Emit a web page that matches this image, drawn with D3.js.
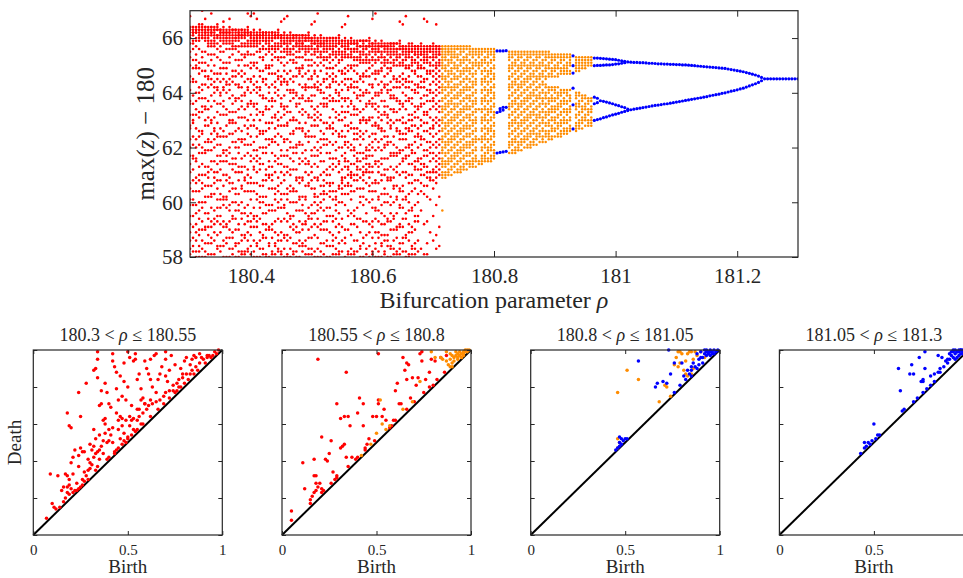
<!DOCTYPE html>
<html>
<head>
<meta charset="utf-8">
<script src="https://cdn.jsdelivr.net/npm/d3@7"></script>
<style>
  body { margin: 0; background: #fff; }
  text { font-family: "Liberation Serif", "Times New Roman", serif; fill: #262626; }
</style>
</head>
<body>
<svg id="chart" width="963" height="578"></svg>
<script>
// ---------------- data ----------------
// bifurcation diagram: each column is "rho:codes", code = tenths above 58 for max(z)-180
var redCols = [
"180.300:84 84 83 83 82 81 80 78 75 73 70 66 64 61 57 56 52 48 47 43 40 37 34 31 27 25 21 19 15 12 09 06 03 01 88",
"180.315:85 84 83 83 82 81 80 79 76 71 69 67 62 60 58 53 51 46 44 41 38 33 30 28 24 20 17 14 10 08 04 02 00",
"180.335:84 84 83 82 82 81 79 78 77 74 72 68 65 63 59 55 50 49 45 42 39 35 32 26 23 22 18 13 11 07 05 01 89",
"180.310:84 83 83 82 82 80 79 77 74 72 70 69 64 60 57 54 52 47 43 40 36 35 29 27 24 19 16 12 09 06 02 00",
"180.345:85 84 83 83 81 81 80 78 76 73 67 65 62 61 56 53 49 45 44 41 37 34 31 28 25 21 18 15 13 08 04 03",
"180.325:84 84 83 82 82 81 80 79 75 71 68 66 63 58 55 54 50 48 42 39 38 33 30 26 22 20 16 11 10 05 02 00 87",
"180.340:84 83 83 82 81 80 79 78 77 74 70 67 64 62 60 57 51 47 46 43 40 35 31 29 27 23 17 14 12 09 06 01",
"180.305:84 84 83 82 82 81 79 78 76 72 69 65 64 59 56 52 50 49 44 41 37 36 32 28 24 21 19 15 11 07 04 02",
"180.320:85 84 83 83 82 81 80 80 75 73 71 68 63 61 58 55 53 46 45 40 38 34 30 27 25 20 18 13 10 06 03 00 90",
"180.330:84 83 83 82 81 80 79 78 77 74 70 66 65 62 57 54 51 48 43 42 39 33 31 29 26 22 16 14 11 08 05 01",
"180.350:83 83 82 82 81 80 79 77 75 72 69 67 64 60 59 56 52 47 44 41 37 35 32 28 23 21 18 15 12 09 04 02",
"180.365:84 83 82 82 81 80 79 78 76 73 71 65 63 61 58 53 50 49 45 40 38 34 29 27 24 19 17 13 10 07 03 00 87",
"180.385:83 83 82 81 81 80 78 77 74 72 68 66 62 59 57 55 51 46 43 42 36 33 31 26 25 20 16 14 08 06 02 01",
"180.360:83 82 82 81 80 80 79 78 76 71 69 67 64 63 60 54 52 48 44 39 37 35 30 28 22 21 18 12 11 07 05 00",
"180.395:84 83 82 82 81 79 78 77 75 74 70 65 62 61 56 55 50 47 45 41 38 32 30 27 24 19 15 13 09 06 03 02 89",
"180.375:83 83 82 81 80 80 79 77 76 72 68 66 63 58 57 53 49 46 42 40 36 34 31 25 23 20 17 14 10 05 04 00",
"180.390:83 82 82 81 81 80 78 77 74 73 70 67 64 60 59 54 51 48 43 41 37 33 29 28 24 18 16 12 08 07 02 01",
"180.355:84 83 82 82 81 80 79 78 75 71 69 65 62 61 57 55 52 46 44 39 38 35 30 26 22 21 19 13 11 06 04 00 86",
"180.370:83 83 82 81 80 79 78 77 76 74 68 66 64 59 56 53 50 49 45 42 36 34 32 27 25 20 15 14 09 07 03 01",
"180.380:83 82 82 81 81 80 79 77 75 72 70 67 63 62 58 54 51 47 43 40 38 33 31 28 23 19 17 12 10 05 02 00",
"180.400:82 82 81 81 80 79 78 77 74 71 69 65 64 60 57 56 52 48 44 41 37 35 29 27 24 21 16 13 11 08 04 01 88",
"180.415:83 82 81 81 80 79 78 76 75 73 68 66 62 61 59 53 50 46 45 40 36 34 32 26 22 20 18 14 09 06 03 00",
"180.435:82 82 81 80 80 79 77 76 74 72 70 67 63 58 57 55 51 49 43 42 38 33 30 28 25 19 17 12 10 07 02 01",
"180.410:82 81 81 80 79 79 78 77 75 71 69 64 62 60 56 54 52 47 44 39 37 35 31 27 23 21 15 13 11 05 04 00 87",
"180.445:83 82 81 81 80 78 77 76 73 72 68 66 65 61 59 53 50 48 45 41 36 34 29 26 24 20 18 14 08 06 03 02",
"180.425:82 82 81 80 79 79 78 76 74 70 69 65 63 58 55 54 49 46 43 40 38 32 30 28 22 19 16 12 10 07 01 00",
"180.440:82 81 81 80 80 78 77 76 75 73 67 64 62 60 57 52 51 47 44 42 37 35 31 25 23 21 17 13 09 05 04 01",
"180.405:83 82 81 80 79 79 78 77 74 71 70 66 63 61 56 55 50 48 42 39 36 33 32 27 24 18 15 14 11 06 02 00 89",
"180.420:82 82 81 81 80 79 77 76 73 72 68 65 64 59 58 53 52 46 45 40 38 34 28 26 22 20 16 12 08 07 03 01",
"180.430:82 81 80 80 79 78 77 76 75 70 69 67 62 60 57 54 49 47 43 41 35 33 30 29 25 19 17 11 10 05 04 00",
"180.450:81 81 80 80 79 78 77 75 73 71 66 64 63 58 56 55 51 48 44 39 37 34 31 27 23 21 18 13 09 06 02 01 86",
"180.465:82 81 80 79 79 78 76 75 74 72 68 65 61 60 57 53 50 45 42 40 36 32 30 26 24 20 15 14 11 07 03 00",
"180.485:81 81 80 79 78 78 77 76 73 70 69 66 62 59 58 54 52 47 46 41 38 35 29 28 22 19 17 12 10 05 04 02",
"180.460:81 80 80 79 78 77 76 75 74 71 67 64 63 61 55 53 49 48 43 39 37 33 31 25 23 21 16 13 08 06 01 00 88",
"180.495:82 81 80 80 79 77 76 75 72 70 68 65 62 58 57 52 51 46 44 42 35 34 30 27 26 18 15 14 10 07 03 01",
"180.475:81 81 80 79 78 78 77 75 73 71 69 66 60 59 56 55 50 47 41 40 38 32 29 28 24 20 17 11 09 05 02 00",
"180.490:81 80 80 79 79 77 76 75 74 72 67 63 62 61 57 53 49 45 44 39 36 34 31 26 22 21 16 13 12 06 04 01",
"180.455:82 81 80 79 78 78 76 75 73 70 68 65 64 59 55 54 52 48 43 42 37 33 30 28 23 19 18 14 08 07 03 00 87",
"180.470:81 81 80 80 79 77 76 74 72 71 66 64 61 60 58 51 50 46 45 40 38 35 32 25 24 20 15 12 10 05 02 01",
"180.480:81 80 79 79 78 77 76 75 73 69 68 67 63 58 56 53 49 47 42 41 36 34 29 27 22 21 17 13 09 06 04 00",
"180.500:80 80 79 79 78 77 76 74 72 70 66 65 62 59 57 55 51 48 44 39 37 33 31 28 25 19 16 14 11 07 03 01 85",
"180.515:81 80 79 78 78 77 75 74 73 71 68 63 61 60 56 52 50 46 43 40 38 35 30 26 23 20 18 12 10 05 02 00",
"180.535:80 80 79 78 77 76 75 74 72 69 67 65 64 58 57 54 49 47 45 41 36 34 32 27 24 21 15 13 08 06 04 01",
"180.510:80 79 79 78 77 77 76 75 73 70 66 64 62 61 55 53 51 48 42 39 37 33 29 28 22 19 17 14 11 07 03 00 89",
"180.545:81 80 79 78 78 76 75 74 72 71 68 63 60 59 57 52 50 45 44 40 35 34 31 26 25 20 16 12 09 05 02 01",
"180.525:80 79 79 78 77 76 75 73 72 69 67 65 62 58 56 55 49 47 43 41 38 32 30 27 23 18 15 13 10 06 04 00",
"180.540:80 80 79 78 77 77 75 74 73 70 66 64 61 60 57 53 51 46 42 39 36 33 24 22 21 19 17 14 11 07 03 01",
"180.505:81 80 79 78 78 76 75 74 71 68 67 63 62 59 54 52 50 48 44 40 37 34 29 25 23 22 20 16 12 08 02 00 86",
"180.520:80 79 78 78 77 76 75 73 72 70 65 64 60 58 56 55 49 45 43 41 35 31 28 26 24 23 21 17 13 10 05 01",
"180.530:80 80 79 78 77 76 74 73 71 69 66 63 62 59 57 51 48 47 42 38 36 33 30 27 26 24 22 18 15 09 04 00",
"180.550:79 79 78 77 77 75 74 73 72 68 67 64 61 58 55 53 50 46 44 40 37 32 29 28 27 25 23 20 14 11 06 02 84",
"180.565:80 79 78 78 76 75 74 73 70 69 65 63 62 57 56 52 49 47 41 39 34 31 30 29 26 24 21 16 12 08 03 01",
"180.585:79 79 78 77 76 75 74 72 71 67 66 64 60 59 54 51 50 45 43 38 36 33 31 30 28 25 22 19 13 07 05 00",
"180.560:79 78 78 77 76 76 74 73 70 68 65 62 61 58 55 53 48 46 42 40 35 33 32 30 27 26 23 17 15 10 02 01 88",
"180.595:80 79 78 77 77 75 74 72 71 69 66 63 60 57 56 51 50 44 41 39 37 34 33 31 29 26 24 20 12 09 04 00",
"180.575:79 78 78 77 76 75 73 72 70 67 64 62 59 58 54 52 47 45 43 38 36 35 33 32 30 28 25 18 14 11 06 02",
"180.590:79 79 77 77 76 74 73 72 71 68 66 61 60 56 55 50 49 46 40 39 37 36 34 32 31 27 21 16 13 08 03 01",
"180.555:80 79 78 77 76 75 74 73 69 67 65 63 58 57 53 51 48 44 42 41 38 36 35 33 29 26 23 19 10 07 05 00 85",
"180.570:79 78 78 76 76 75 73 72 70 68 64 62 60 55 54 52 47 45 43 40 39 37 34 30 28 24 17 15 12 06 02 01",
"180.580:79 79 77 77 75 74 73 72 71 66 65 61 59 57 53 50 49 46 44 41 38 35 32 29 25 22 20 14 09 04 03 00",
"180.600:78 78 77 76 76 75 73 72 70 67 63 62 58 56 55 51 48 45 42 40 37 33 31 27 24 21 18 13 11 07 02 01 87",
"180.615:79 78 77 77 75 74 73 71 69 68 64 61 60 57 52 50 47 46 43 39 36 34 30 28 23 19 16 12 08 05 04 00",
"180.635:78 78 77 76 75 74 72 71 70 66 65 62 59 58 54 53 49 44 41 38 37 32 29 26 25 20 15 14 10 06 03 01",
"180.610:78 77 77 76 75 75 73 72 68 67 63 60 59 55 53 51 48 47 42 40 35 33 31 27 22 21 17 13 09 07 02 00",
"180.645:79 78 77 76 76 74 73 71 70 66 64 62 57 56 54 50 46 45 43 39 38 34 30 25 24 19 18 12 11 05 03 01 86",
"180.625:78 77 77 76 75 74 72 71 69 67 63 61 60 55 52 51 49 44 42 41 36 32 29 28 23 20 14 13 08 06 04 00",
"180.640:78 78 76 76 75 74 73 72 70 65 64 62 58 57 53 50 47 46 40 38 37 33 31 26 22 21 16 11 10 07 02 01",
"180.605:79 78 77 76 75 74 72 71 68 67 65 60 59 56 54 49 48 45 43 39 35 34 28 27 24 18 17 14 09 05 03 00 89",
"180.620:78 77 77 76 75 73 72 71 70 66 63 62 57 55 53 52 46 44 41 40 36 32 30 25 23 20 15 12 08 06 02 01",
"180.630:78 78 77 76 75 74 73 71 69 68 64 61 59 58 54 50 48 47 42 38 37 33 29 28 22 19 16 13 10 04 03 00",
"180.650:77 77 76 76 75 74 72 71 70 67 65 63 60 56 55 51 49 45 43 39 36 35 31 26 24 21 18 14 11 07 05 02 85",
"180.660:78 77 76 75 75 74 73 70 69 66 64 62 58 57 52 50 47 46 41 40 37 34 30 27 23 20 17 12 09 06 01 00",
"180.670:77 77 76 75 74 74 72 71 68 67 63 61 60 55 53 51 48 44 42 38 35 33 32 28 25 19 15 13 10 05 03 01",
"180.655:77 76 76 75 74 73 72 70 69 65 64 62 59 57 54 49 47 45 43 40 37 36 31 29 22 21 16 14 08 07 02 00 88",
"180.665:78 77 76 75 75 73 72 71 70 68 64 61 58 56 52 50 48 46 41 39 38 34 30 27 24 18 17 11 09 04 03 01",
"180.675:77 77 76 75 74 73 71 70 69 66 63 62 60 55 54 51 47 45 44 40 36 35 32 28 23 20 15 13 06 02",
"180.690:77 76 76 75 74 73 72 71 68 67 65 61 59 57 53 52 49 46 42 39 37 33 31 29 26 22 13 05 01 86",
"180.680:78 77 76 75 74 74 72 70 69 66 64 62 58 56 55 50 48 44 43 41 36 34 32 30 27 24 17 03",
"180.695:77 77 76 75 75 73 71 70 68 67 63 61 60 57 54 51 47 45 42 40 38 35 31 29 28 21 09",
"180.685:77 76 75 75 74 73 72 71 69 65 64 62 59 56 53 52 49 46 43 39 37 34 33 30 26 23 12 01 87",
"180.700:78 77 76 75 74 73 72 70 68 66 64 60 58 57 55 50 48 47 44 41 38 36 32 31 28 25 15 06",
"180.705:77 77 76 75 74 73 71 70 69 67 65 63 61 59 56 54 51 49 45 42 40 37 35 33 31 29 27 19 08 03 85",
"180.710:77 76 76 75 74 74 72 71 70 68 66 64 62 60 57 55 53 50 48 46 43 41 38 36 34 32 30 22 11 04"
];

var orangeCols = [
"180.715:77 76 76 75 74 73 72 71 70 69 67 66 65 63 62 61 60 58 57 55 54 53 51 50 49 47 46 44 43 42 40 39 38 36 35 34 33 31 30 29 17",
"180.720:77 76 75 74 73 72 70 69 68 66 65 64 62 61 59 58 56 55 54 52 51 49 48 47 45 44 42 41 40 38 37 35 34 33 31 30 29",
"180.725:77 76 75 75 74 72 71 70 68 67 66 64 63 62 60 59 57 56 55 53 52 50 49 48 46 45 43 42 41 39 38 36 35 34 32 31 30",
"180.730:77 76 75 74 73 72 71 69 68 67 65 64 62 61 60 58 57 56 54 53 51 50 49 47 46 44 43 42 40 39 37 36 35 33 32 30",
"180.735:77 76 75 74 73 71 70 69 67 66 65 63 62 61 59 58 56 55 54 52 51 50 48 47 45 44 43 41 40 38 37 36 34 33 31",
"180.740:77 76 76 74 73 72 70 69 68 66 65 63 62 60 59 58 56 55 53 52 51 49 48 46 45 44 42 41 39 38 37 35 34 32 31",
"180.745:77 76 75 74 72 71 70 68 67 66 64 63 61 60 59 57 56 54 53 52 50 49 47 46 45 43 42 40 39 38 36 35 33 32 31",
"180.750:77 76 75 73 72 71 69 68 67 65 64 62 61 60 58 57 55 54 53 51 50 48 47 46 44 43 41 40 39 37 36 34 33 32",
"180.755:77 76 74 73 72 70 69 68 66 65 63 62 61 59 58 56 55 54 52 51 49 48 47 45 44 42 41 40 38 37 35 34 32",
"180.760:77 76 75 74 72 71 69 68 67 65 64 62 61 59 58 57 55 54 52 51 50 48 47 45 44 42 41 40 38 37 35 34 33",
"180.765:76 75 74 73 71 70 69 67 66 64 63 62 60 59 57 56 55 53 52 50 49 48 46 45 43 42 41 39 38 36 35 34 33",
"180.770:76 75 74 72 71 70 68 67 65 64 63 61 60 58 57 56 54 53 51 50 49 47 46 44 43 42 40 39 37 36 35 33",
"180.775:76 75 74 73 71 70 69 54 43 35 34",
"180.780:76 75 74 72 71 70 68 67 65 64 63 61 60 58 57 56 54 53 51 50 49 47 46 44 43 42 40 39 37 36 35 34",
"180.785:76 75 73 72 71 69 68 66 65 64 62 61 59 58 57 55 54 52 51 50 48 47 45 44 43 41 40 38 37 36 35",
"180.790:76 75 74 73 71 70 68 67 66 64 63 61 60 59 57 56 54 53 52 50 49 47 46 45 43 42 40 39 38 36 35",
"180.795:76 75 74 72 71 69 68 67 65 64 62 61 60 58 57 55 54 53 51 50 48 47 46 44 43 41 40 39 37 36 35",
"180.800:76 75 74 73 72 70 69 67 66 65 63 62 60 59 58 56 55 53 52 51 49 48 46 45 44 42 41 39 38 37 36",
"180.825:75 74 73 72 70 69 68 66 65 63 62 61 59 58 56 55 54 52 51 49 48 47 45 44 42 41 40 38",
"180.830:75 74 73 71 70 69 67 66 64 63 62 60 59 57 56 55 53 52 50 49 48 46 45 43 42 41 39 38",
"180.835:75 74 72 71 70 68 67 65 64 63 61 60 58 57 56 54 53 51 50 49 47 46 44 43 42 40 39 38",
"180.840:75 74 73 72 70 69 68 66 65 63 62 61 59 58 56 55 54 52 51 49 48 47 45 44 42 41 40 39",
"180.845:75 74 73 71 70 69 67 66 64 63 62 60 59 57 56 55 53 52 50 49 48 46 45 43 42 41 39",
"180.850:75 74 72 71 70 68 67 65 64 63 61 60 58 57 56 54 53 51 50 49 47 46 44 43 42 40",
"180.855:75 74 73 72 70 69 68 66 65 64 62 61 59 58 57 55 54 52 51 50 48 47 45 44 43 41 40",
"180.860:75 74 73 71 70 69 67 66 65 63 62 60 59 58 56 55 53 52 51 49 48 46 45 44 42 41 40",
"180.865:75 74 72 71 70 68 67 66 64 63 61 60 59 57 56 54 53 52 50 49 47 46 45 43 42 41",
"180.870:75 74 73 72 70 69 68 66 65 64 62 61 59 58 57 55 54 52 51 50 48 47 45 44 43 41",
"180.875:75 74 73 71 70 69 67 66 65 63 62 60 59 58 56 55 53 52 51 49 48 46 45 44 42",
"180.880:75 74 72 71 70 68 67 66 64 63 61 60 58 57 56 54 53 51 50 49 47 46 44 43 42",
"180.885:75 74 73 72 70 69 68 66 65 63 62 60 59 58 56 55 53 52 51 49 48 46 45 44 42",
"180.890:75 74 73 71 70 69 67 66 62 61 60 58 57 56 54 53 52 50 49 48 46 45 44 43",
"180.895:74 73 72 71 69 68 67 66 62 61 59 58 57 55 54 53 51 50 48 47 46 44 43",
"180.900:74 73 72 70 69 68 66 62 61 60 58 57 55 54 53 51 50 49 47 46 44",
"180.905:74 73 71 70 69 67 66 62 60 59 58 56 55 54 52 51 49 48 47 45 44",
"180.910:74 73 72 71 69 68 67 61 60 59 57 56 55 53 52 50 49 48 46 45 44",
"180.915:74 73 72 70 69 68 67 61 60 58 57 56 54 53 51 50 49 47 46 45",
"180.920:74 73 71 70 69 68 67 61 60 59 57 56 54 53 52 50 49 47 46 45",
"180.925:74 73 72 71 70 68 67 61 59 58 57 55 54 53 51 50 48 47 46",
"180.935:73 72 71 70 69 68 60 59 58 56 55 54 52 51 49 48 47 46",
"180.940:73 72 71 70 69 68 60 59 57 56 55 53 52 50 49 48 47",
"180.945:73 72 71 70 69 59 58 57 55 54 53 51 50 49 47",
"180.950:73 72 71 70 69 59 58 56 55 54 52 51 50 48",
"180.955:73 72 71 70 58 57 56 54 53 52 50 49 48",
"180.960:73 72 71 70 58 57 55 54 53 51 50 49 48"
];

// periodic orbits: "rho:values" (max(z)-180)
var blueCols = [
"180.805:65.53 63.28 61.80", "180.810:65.53 63.32 63.42 61.82",
"180.815:65.53 63.37 63.47 61.84", "180.820:65.54 63.47 61.86",
"180.930:65.35 64.99 64.72 64.17 63.56 62.68",
"180.965:65.27 64.99 63.84 63.60 62.99", "180.970:65.27 65.00 63.80 63.64 63.02",
"180.975:65.26 65.00 63.71 63.05", "180.980:65.25 65.01 63.69 63.09",
"180.985:65.24 65.02 63.66 63.12", "180.990:65.23 65.02 63.63 63.16",
"180.995:65.22 65.03 63.60 63.19", "181.000:65.21 65.05 63.56 63.22",
"181.005:65.19 65.06 63.53 63.25", "181.010:65.17 65.08 63.49 63.29",
"181.015:65.15 65.10 63.46 63.32", "181.020:65.13 63.40 63.35",
"181.025:65.12 63.38", "181.030:65.11 63.40", "181.035:65.11 63.42",
"181.040:65.10 63.44", "181.045:65.10 63.46", "181.050:65.09 63.48",
"181.055:65.08 63.50", "181.060:65.08 63.52", "181.065:65.07 63.54",
"181.070:65.06 63.55", "181.075:65.06 63.57", "181.080:65.05 63.59",
"181.085:65.05 63.60", "181.090:65.04 63.62", "181.095:65.04 63.64",
"181.100:65.03 63.66", "181.105:65.03 63.68", "181.110:65.02 63.70",
"181.115:65.02 63.72", "181.120:65.01 63.74", "181.125:65.00 63.76",
"181.130:64.99 63.78", "181.135:64.98 63.80", "181.140:64.97 63.82",
"181.145:64.96 63.84", "181.150:64.95 63.86", "181.155:64.94 63.89",
"181.160:64.93 63.91", "181.165:64.92 63.93", "181.170:64.91 63.95",
"181.175:64.90 63.98", "181.180:64.89 64.00", "181.185:64.87 64.03",
"181.190:64.85 64.06", "181.195:64.83 64.08", "181.200:64.81 64.11",
"181.205:64.79 64.14", "181.210:64.77 64.17", "181.215:64.74 64.21",
"181.220:64.71 64.25", "181.225:64.68 64.29", "181.230:64.65 64.33",
"181.235:64.61 64.38", "181.240:64.56 64.44", "181.245:64.51",
"181.250:64.51", "181.255:64.51", "181.260:64.51", "181.265:64.51",
"181.270:64.51", "181.275:64.51", "181.280:64.51", "181.285:64.51",
"181.290:64.51", "181.295:64.51", "181.300:64.51"
];

var rhoTicks = [180.4, 180.6, 180.8, 181, 181.2];
var zTicks = [58, 60, 62, 64, 66];

// persistence diagrams, [birth, death]
var rhoBins = ["180.3", "180.55", "180.8", "181.05", "181.3"];
var birthTicks = [0, 0.5, 1];
var deathTicks = [0, 0.2, 0.4, 0.6, 0.8, 1];

var pd1Red = [[.07,.09],[.10,.17],[.11,.15],[.09,.33],[.13,.32],[.14,.15],[.15,.24],[.17,.33],[.18,.23],[.18,.26],[.19,.22],[.20,.25],[.21,.33],[.21,.23],[.22,.24],[.23,.24],[.24,.25],[.25,.26],[.26,.27],[.26,.30],[.28,.32],[.29,.30],[.27,.34],[.29,.41],[.30,.39],[.30,.36],[.31,.38],[.32,.42],[.33,.35],[.33,.44],[.35,.46],[.35,.41],[.36,.48],[.37,.51],[.35,.54],[.38,.55],[.39,.50],[.40,.51],[.40,.57],[.41,.54],[.42,.58],[.43,.44],[.44,.46],[.45,.57],[.46,.52],[.47,.59],[.48,.55],[.48,.51],[.49,.50],[.50,.53],[.51,.59],[.52,.62],[.53,.57],[.54,.56],[.55,.62],[.56,.64],[.57,.60],[.58,.66],[.59,.71],[.60,.68],[.61,.70],[.62,.73],[.63,.71],[.65,.72],[.67,.73],[.69,.75],[.70,.77],[.72,.78],[.74,.81],[.76,.82],[.77,.84],[.79,.85],[.81,.87],[.83,.87],[.84,.89],[.86,.91],[.88,.93],[.90,.95],[.92,.96],[.93,.97],[.89,.96],[.85,.97],[.70,.95],
[.18,.66],[.19,.59],[.20,.58],[.24,.77],[.25,.64],[.28,.82],[.32,.89],[.33,.90],[.34,.85],[.34,.95],[.35,.70],[.38,.82],[.39,.77],[.40,.71],[.42,.94],[.43,.91],[.44,.88],[.46,.86],[.47,.75],[.48,.93],[.48,.83],[.49,.73],[.51,.96],[.53,.94],[.54,.95],[.55,.84],[.56,.87],[.58,.74],[.59,.94],[.61,.87],[.62,.84],[.63,.80],[.64,.97],[.65,.77],[.67,.87],[.68,.91],[.70,.86],[.72,.89],[.74,.78],[.76,.78],[.77,.80],[.79,.87],[.80,.94],[.81,.96],[.84,.95],[.86,.96],[.92,.97],
[.32,.57],[.33,.52],[.34,.45],[.36,.71],[.37,.62],[.38,.63],[.44,.66],[.45,.62],[.46,.64],[.47,.63],[.49,.62],[.51,.64],[.53,.63],[.55,.68],[.56,.68],[.57,.73],[.59,.71],[.30,.49],[.31,.46],[.32,.48],[.27,.45],[.25,.47],[.26,.45],[.24,.43],[.24,.37],[.21,.42],[.22,.46],[.20,.39],[.18,.32],[.19,.30],[.19,.27],[.16,.26],
[.34,.99],[.50,.99],[.54,.98],[.70,.99],[.65,.98],[.42,.98],[.96,.99],[.98,1.0],[.95,.97],
[.40,.42],[.45,.47],[.52,.54],[.55,.57],[.58,.60],[.62,.64],[.66,.68],[.69,.71],[.72,.74],[.75,.77],[.78,.80],[.80,.82],[.82,.84],[.85,.87],[.87,.89],[.91,.93],[.94,.96],[.97,.98],
[.36,.78],[.41,.69],[.44,.79],[.50,.80],[.52,.70],[.57,.79],[.60,.90],[.66,.84],[.71,.83],[.75,.92],[.78,.90],[.83,.92],[.88,.98],[.73,.97],[.62,.95],[.45,.73],[.38,.60],[.42,.50],[.37,.44],[.29,.35],[.23,.28],[.17,.20],[.12,.14],[.16,.18],[.27,.29],[.34,.37],[.39,.41],[.43,.45],[.47,.49],[.50,.52]];

var pd2Red = [[.05,.08],[.05,.13],[.11,.39],[.12,.25],[.19,.95],[.34,.88],[.51,.98],[.15,.19],[.16,.21],[.17,.23],[.18,.24],[.19,.26],[.20,.28],[.21,.23],[.21,.25],[.17,.32],[.18,.32],[.17,.41],[.18,.28],[.21,.53],[.23,.41],[.24,.40],[.25,.44],[.26,.51],[.27,.34],[.28,.30],[.29,.32],[.29,.31],[.29,.71],[.31,.63],[.33,.64],[.35,.64],[.31,.47],[.32,.48],[.33,.49],[.34,.42],[.36,.59],[.37,.42],[.39,.41],[.40,.66],[.41,.74],[.43,.71],[.43,.59],[.44,.47],[.45,.49],[.46,.52],[.48,.64],[.50,.64],[.51,.71],[.51,.73],[.53,.64],[.54,.68],[.55,.62],[.57,.58],[.58,.59],[.59,.62],[.60,.78],[.61,.82],[.62,.71],[.63,.71],[.64,.96],[.65,.89],[.66,.93],[.66,.84],[.67,.92],[.68,.74],[.69,.85],[.71,.81],[.72,.85],[.73,.98],[.74,.94],[.74,.99],[.76,.84],[.78,.88],[.79,.95],[.80,.81],[.81,.94],[.84,.96],[.87,.97],
[.15,.17],[.22,.24],[.26,.28],[.35,.37],[.40,.42],[.44,.46],[.49,.51],[.60,.62],[.66,.68],[.70,.72],[.75,.77],[.78,.80],[.82,.84],[.86,.88]];
var pd2Orange = [[.52,.73],[.53,.60],[.50,.55],[.57,.59],[.64,.68],[.69,.72],[.73,.83],[.79,.99],[.81,.96],[.84,.96],[.87,.99],[.89,.98],[.89,.95],[.90,.93],[.91,.96],[.92,.97],[.93,.98],[.94,.99],[.96,.99],[.97,1.0],[.98,.99],[.85,.95],[.89,.91],[.90,.91],[.93,.95],[.95,.96],[.96,.97],[.55,.57],[.90,.97],[.92,.99],[.93,.96],[.94,.97],[.95,.98],[.96,.98],[.97,.99],[.98,1.0],[.99,1.0],[.91,.94],[.88,.92],[.87,.94],[.42,.43],[.47,.49]];

var pd3Orange = [[.46,.77],[.51,.89],[.57,.84],[.68,.72],[.71,.81],[.72,.80],[.77,.96],[.78,.99],[.79,.99],[.80,.98],[.81,.89],[.82,.94],[.83,.98],[.84,.99],[.85,.99],[.86,.95],[.76,.92],[.78,.91],[.79,.93],[.82,.87],[.83,.86],[.85,.87],[.86,.90],[.46,.52],[.47,.50],[.46,.47],[.74,.75],[.90,.99],[.92,.96],[.88,.97],[.87,.99]];
var pd3Blue = [[.57,.94],[.66,.80],[.67,.82],[.70,.83],[.72,.82],[.74,.87],[.76,.93],[.73,1.0],[.80,.93],[.81,.86],[.79,.81],[.76,.77],[.83,.89],[.85,.91],[.86,.93],[.88,.98],[.90,.99],[.92,1.0],[.93,.99],[.95,.99],[.97,1.0],[.99,1.0],[.89,.95],[.91,.96],[.93,.97],[.94,.98],[.96,.99],[.87,.91],[.85,.89],[.85,.86],
[.45,.46],[.46,.47],[.47,.48],[.47,.50],[.48,.52],[.49,.51],[.50,.52],[.51,.52],[.47,.53],[.48,.49],[.92,.98],[.94,.99],[.95,.97],[.96,.98],[.97,.98],[.98,.99],[.91,.93],[.89,.92],[.90,.96],[.93,1.0],[.95,1.0],[.88,.90],[.84,.87],[.82,.84]];

var pd4Blue = [[.63,.90],[.64,.78],[.70,.92],[.69,.87],[.71,.87],[.77,.99],[.77,.90],[.74,.96],[.76,.84],[.76,.83],[.75,.83],[.80,.86],[.82,.87],[.84,.88],[.85,.88],[.84,.97],[.86,.96],[.88,.94],[.89,.95],[.90,.98],[.91,.99],[.92,1.0],[.94,.99],[.96,1.0],[.87,.91],[.85,.90],[.82,.83],[.80,.81],[.78,.79],[.76,.77],[.73,.74],[.71,.72],[.66,.68],[.65,.67],[.50,.60],[.45,.50],[.47,.50],[.49,.51],[.51,.52],[.52,.54],[.53,.54],[.48,.49],[.46,.48],[.45,.47],[.43,.44],
[.93,.98],[.94,.99],[.95,.99],[.96,1.0],[.97,.99],[.98,1.0],[.99,1.0],[.95,.97],[.96,.98],[.97,.98],[.98,.99],[.92,.96],[.93,.95],[.94,.96],[.91,.97],[.90,.95],[.89,.93],[.92,.99],[.93,1.0],[.95,1.0],[.97,1.0]];

// ---------------- drawing ----------------
var RED = "#ff0000", ORANGE = "#ff8c00", BLUE = "#0000ff", AXIS = "#262626";
var W = 963;

function parseCols(cols, decode) {
  var pts = [];
  cols.forEach(function(c) {
    var parts = c.split(":"), rho = +parts[0];
    parts[1].trim().split(/\s+/).forEach(function(v) {
      pts.push({ rho: rho, y: decode(v) });
    });
  });
  return pts;
}
var codeToY = function(v) { return 58 + (+v) / 10; };

var svg = d3.select("#chart");

// ---- top: bifurcation diagram
var box = { left: 190, right: 798, top: 10.7, bottom: 257 };
var x = d3.scaleLinear().domain([180.3, 181.3]).range([box.left, box.right]);
var y = d3.scaleLinear().domain([58, 67]).range([box.bottom, box.top]);

svg.append("clipPath").attr("id", "clipTop")
  .append("rect")
  .attr("x", box.left).attr("y", box.top)
  .attr("width", box.right - box.left).attr("height", box.bottom - box.top);

var plot = svg.append("g").attr("clip-path", "url(#clipTop)");

function drawDots(data, color, r) {
  plot.append("g").selectAll("circle")
    .data(data)
    .enter().append("circle")
    .attr("cx", function(d) { return x(d.rho); })
    .attr("cy", function(d) { return y(d.y); })
    .attr("r", r)
    .attr("fill", color);
}
drawDots(parseCols(orangeCols, codeToY), ORANGE, 1.25);
drawDots(parseCols(redCols, codeToY), RED, 1.3);
drawDots(parseCols(blueCols, function(v) { return +v; }), BLUE, 1.6);

function styleAxis(g) {
  g.select(".domain").remove();
  g.selectAll(".tick line").attr("stroke", AXIS);
  g.selectAll(".tick text").attr("fill", AXIS);
}

svg.append("g").attr("transform", "translate(0," + box.bottom + ")")
  .call(d3.axisBottom(x).tickValues(rhoTicks).tickSize(-6).tickPadding(11).tickFormat(function(d) { return d; }))
  .call(styleAxis)
  .selectAll("text").style("font-size", "21px").style("font-family", "Liberation Serif, serif");
svg.append("g").attr("transform", "translate(0," + box.top + ")")
  .call(d3.axisTop(x).tickValues(rhoTicks).tickSize(-6).tickFormat(""))
  .call(styleAxis);
svg.append("g").attr("transform", "translate(" + box.left + ",0)")
  .call(d3.axisLeft(y).tickValues(zTicks).tickSize(-6).tickPadding(7).tickFormat(function(d) { return d; }))
  .call(styleAxis)
  .selectAll("text").style("font-size", "21px").style("font-family", "Liberation Serif, serif");
svg.append("g").attr("transform", "translate(" + box.right + ",0)")
  .call(d3.axisRight(y).tickValues(zTicks).tickSize(-6).tickFormat(""))
  .call(styleAxis);

svg.append("rect")
  .attr("x", box.left).attr("y", box.top)
  .attr("width", box.right - box.left).attr("height", box.bottom - box.top)
  .attr("fill", "none").attr("stroke", AXIS).attr("stroke-width", 1.2);

var xl = svg.append("text")
  .attr("x", (box.left + box.right) / 2).attr("y", 308)
  .attr("text-anchor", "middle").style("font-size", "24px");
xl.append("tspan").text("Bifurcation parameter ");
xl.append("tspan").style("font-style", "italic").text("ρ");

var yl = svg.append("text")
  .attr("transform", "translate(154," + ((box.top + box.bottom) / 2) + ") rotate(-90)")
  .attr("text-anchor", "middle").style("font-size", "25px");
yl.append("tspan").text("max(");
yl.append("tspan").style("font-style", "italic").text("z");
yl.append("tspan").text(") \u2212 180");

// ---- bottom: persistence diagrams
var panels = [
  { sets: [[pd1Red, RED]] },
  { sets: [[pd2Red, RED], [pd2Orange, ORANGE]] },
  { sets: [[pd3Orange, ORANGE], [pd3Blue, BLUE]] },
  { sets: [[pd4Blue, BLUE]] }
];
var pw = 189, ph = 185, pTop = 350;
var bx = d3.scaleLinear().domain([0, 1]).range([0, pw]);
var by = d3.scaleLinear().domain([0, 1]).range([ph, 0]);

panels.forEach(function(p, i) {
  var left = 33.3 + i * 248.7;
  var g = svg.append("g").attr("transform", "translate(" + left + "," + pTop + ")");

  g.append("line")
    .attr("x1", bx(0)).attr("y1", by(0)).attr("x2", bx(1)).attr("y2", by(1))
    .attr("stroke", "#000").attr("stroke-width", 2);

  p.sets.forEach(function(s) {
    g.append("g").selectAll("circle")
      .data(s[0])
      .enter().append("circle")
      .attr("cx", function(d) { return bx(d[0]); })
      .attr("cy", function(d) { return by(d[1]); })
      .attr("r", 1.75)
      .attr("fill", s[1]);
  });

  var xa = g.append("g").attr("transform", "translate(0," + ph + ")")
    .call(d3.axisBottom(bx).tickValues(birthTicks).tickSize(-4).tickPadding(9).tickFormat(function(d) { return d; }))
    .call(styleAxis);
  xa.selectAll("text").style("font-size", "15px").style("font-family", "Liberation Serif, serif");
  // labels that fall outside the window are not shown
  xa.selectAll(".tick").filter(function(d) { return left + bx(d) > W - 4; }).select("text").remove();

  g.append("g")
    .call(d3.axisTop(bx).tickValues(birthTicks).tickSize(-4).tickFormat(""))
    .call(styleAxis);
  g.append("g")
    .call(d3.axisLeft(by).tickValues(deathTicks).tickSize(-4).tickFormat(""))
    .call(styleAxis);
  g.append("g").attr("transform", "translate(" + pw + ",0)")
    .call(d3.axisRight(by).tickValues(deathTicks).tickSize(-4).tickFormat(""))
    .call(styleAxis);
  g.append("rect").attr("width", pw).attr("height", ph)
    .attr("fill", "none").attr("stroke", AXIS).attr("stroke-width", 1.2);

  var t = g.append("text").attr("x", pw / 2).attr("y", -9)
    .attr("text-anchor", "middle").style("font-size", "18px");
  t.append("tspan").text(rhoBins[i] + " < ");
  t.append("tspan").style("font-style", "italic").text("ρ");
  t.append("tspan").text(" \u2264 " + rhoBins[i + 1]);

  g.append("text").attr("x", pw / 2).attr("y", 223)
    .attr("text-anchor", "middle").style("font-size", "19px").text("Birth");

  if (i === 0) {
    g.append("text")
      .attr("transform", "translate(-12," + (ph / 2) + ") rotate(-90)")
      .attr("text-anchor", "middle").style("font-size", "19px").text("Death");
  }
});
</script>
</body>
</html>
